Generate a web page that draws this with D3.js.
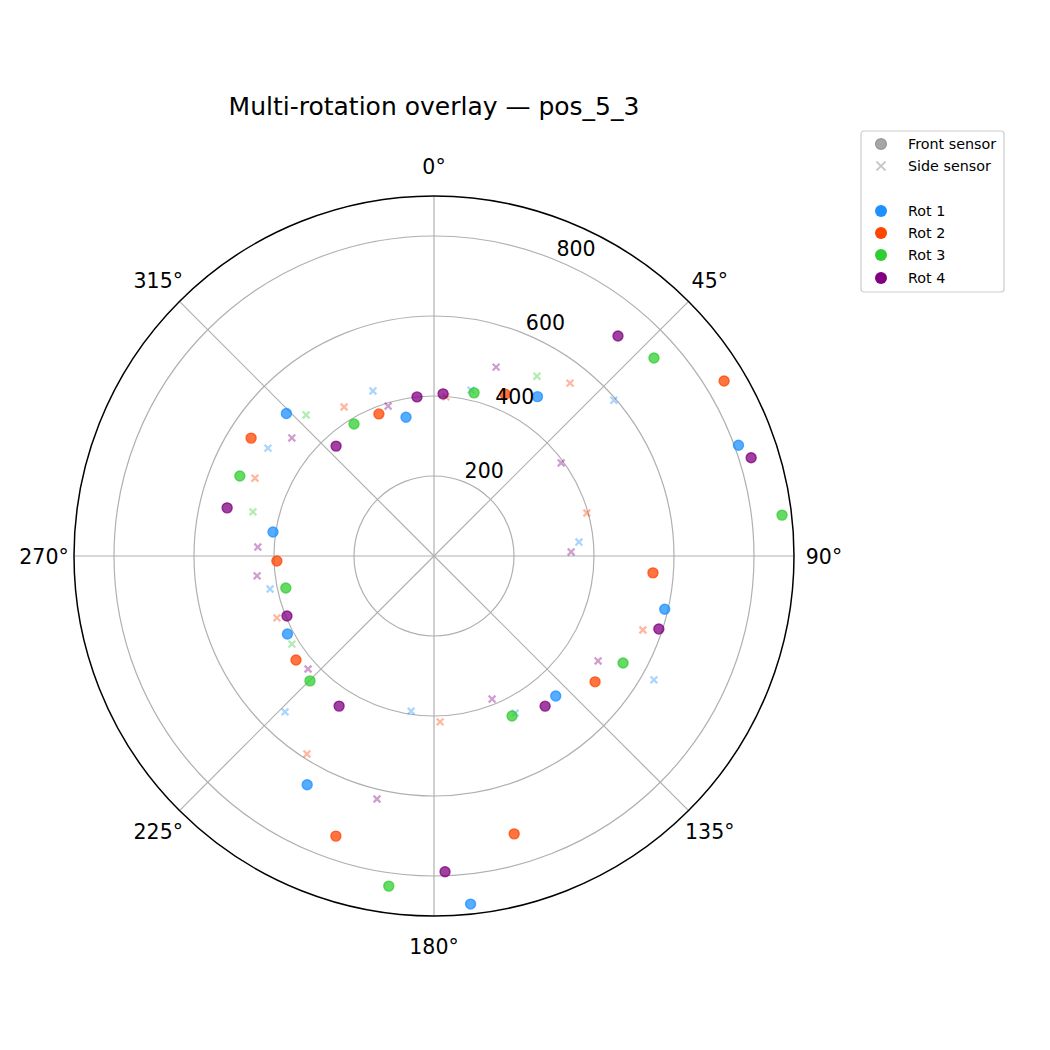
<!DOCTYPE html>
<html>
<head>
<meta charset="utf-8">
<script src="https://cdn.jsdelivr.net/npm/d3@7"></script>
<style>
  body { margin: 0; background: #fff; }
  text { font-family: "DejaVu Sans", sans-serif; }
</style>
</head>
<body>
<div id="polar"></div>
<script>
// data: angle in degrees (clockwise from north), distance
var rotations = ["Rot 1", "Rot 2", "Rot 3", "Rot 4"];

var frontAngle = [
  [33, 70, 103, 139, 174, 209, 242, 278.5, 314, 348.6],
  [23.7, 58.9, 94.4, 128, 163.9, 199.3, 233, 268.2, 302.8, 338.8],
  [13.8, 48, 83.3, 119.5, 154, 187.8, 224.8, 257.8, 292.4, 328.8],
  [3.2, 39.9, 72.8, 108, 143.5, 178, 212.3, 247.8, 283.1, 318.3, 353.9]
];
var frontDist = [
  [475, 810, 592, 464, 875, 654, 415, 407, 513, 354],
  [442, 847, 549, 511, 723, 742, 432, 393, 544, 381],
  [420, 740, 876, 543, 445, 833, 440, 379, 525, 386],
  [406, 717, 830, 591, 467, 790, 444, 397, 531, 368, 400]
];
var sideAngle = [
  [12.6, 49.1, 84.5, 119.4, 152.7, 188.4, 223.7, 258.6, 303, 339.7],
  [4.3, 38.2, 74.3, 109.5, 177.9, 212.7, 248.5, 293.5, 328.9],
  [29.8, 238.2, 283.7, 317.8],
  [18.2, 53.8, 88.3, 122.6, 157.9, 193.2, 228.1, 263.6, 272.9, 309.7, 343]
];
var sideDist = [
  [425, 595, 364, 631, 442, 392, 539, 418, 495, 440],
  [399, 550, 397, 554, 415, 588, 422, 488, 435],
  [518, 418, 466, 476],
  [497, 394, 343, 487, 386, 624, 423, 445, 441, 462, 392]
];
var rTicks = [200, 400, 600, 800];
var thetaTicks = [0, 45, 90, 135, 180, 225, 270, 315];

var colors = ["#1E90FF", "#FF4500", "#32CD32", "#800080"];

var width = 1050, height = 1050;
var cx = 434, cy = 556, outer = 360;

var svg = d3.select("#polar")
  .append("svg")
  .attr("width", width)
  .attr("height", height);

var r = d3.scaleLinear().domain([0, 900]).range([0, outer]);
var theta = d3.scaleLinear().domain([0, 360]).range([0, 2 * Math.PI]);

var chart = svg.append("g")
  .attr("transform", "translate(" + cx + "," + cy + ")");

// grid
chart.selectAll(".rgrid")
  .data(rTicks)
  .enter()
  .append("circle")
  .attr("r", d => r(d))
  .attr("fill", "none")
  .attr("stroke", "#b0b0b0")
  .attr("stroke-width", 1.2);

chart.selectAll(".tgrid")
  .data(thetaTicks)
  .enter()
  .append("line")
  .attr("x1", 0)
  .attr("y1", 0)
  .attr("x2", d => d3.pointRadial(theta(d), outer)[0])
  .attr("y2", d => d3.pointRadial(theta(d), outer)[1])
  .attr("stroke", "#b0b0b0")
  .attr("stroke-width", 1.2);

chart.append("circle")
  .attr("r", outer)
  .attr("fill", "none")
  .attr("stroke", "#000")
  .attr("stroke-width", 1.5);

// points, per rotation: front sensor dots then side sensor crosses
function cross(s) {
  return "M" + (-s) + "," + (-s) + "L" + s + "," + s + "M" + (-s) + "," + s + "L" + s + "," + (-s);
}

rotations.forEach(function (name, i) {
  var front = frontAngle[i].map((a, j) => ({a: a, d: frontDist[i][j]}));
  var side = sideAngle[i].map((a, j) => ({a: a, d: sideDist[i][j]}));

  chart.append("g")
    .selectAll("circle")
    .data(front)
    .enter()
    .append("circle")
    .attr("cx", d => d3.pointRadial(theta(d.a), r(d.d))[0])
    .attr("cy", d => d3.pointRadial(theta(d.a), r(d.d))[1])
    .attr("r", 5)
    .attr("fill", colors[i])
    .attr("fill-opacity", 0.75)
    .attr("stroke", colors[i])
    .attr("stroke-opacity", 0.75)
    .attr("stroke-width", 1.4);

  chart.append("g")
    .selectAll("path")
    .data(side)
    .enter()
    .append("path")
    .attr("transform", d => "translate(" + d3.pointRadial(theta(d.a), r(d.d)) + ")")
    .attr("d", cross(3.4))
    .attr("stroke", colors[i])
    .attr("stroke-opacity", 0.38)
    .attr("stroke-width", 2.3)
    .attr("fill", "none");
});

// radial tick labels at 22.5 deg
chart.selectAll(".rlabel")
  .data(rTicks)
  .enter()
  .append("text")
  .attr("x", d => d3.pointRadial(theta(22.5), r(d))[0])
  .attr("y", d => d3.pointRadial(theta(22.5), r(d))[1] - 4)
  .attr("font-size", "20.5px")
  .attr("text-anchor", "start")
  .text(d => d);

// angle labels
chart.selectAll(".tlabel")
  .data(thetaTicks)
  .enter()
  .append("text")
  .attr("x", d => d3.pointRadial(theta(d), outer + 30)[0])
  .attr("y", d => d3.pointRadial(theta(d), outer + 30)[1] + 7.5)
  .attr("font-size", "20.5px")
  .attr("text-anchor", "middle")
  .text(d => d + "°");

// title
svg.append("text")
  .attr("x", cx)
  .attr("y", 115)
  .attr("text-anchor", "middle")
  .attr("font-size", "25px")
  .text("Multi-rotation overlay — pos_5_3");

// legend
var legend = svg.append("g").attr("transform", "translate(861,131)");
legend.append("rect")
  .attr("width", 143)
  .attr("height", 161)
  .attr("rx", 3)
  .attr("fill", "#fff")
  .attr("stroke", "#cccccc")
  .attr("stroke-width", 1.2);

var rowY = [13, 35, 80, 102, 124, 147];

legend.append("circle")
  .attr("cx", 20).attr("cy", rowY[0]).attr("r", 5.5)
  .attr("fill", "#808080").attr("fill-opacity", 0.7)
  .attr("stroke", "#808080").attr("stroke-opacity", 0.7).attr("stroke-width", 1.2);
legend.append("path")
  .attr("transform", "translate(20," + rowY[1] + ")")
  .attr("d", cross(4.5))
  .attr("stroke", "#c8c8c8")
  .attr("stroke-width", 1.8)
  .attr("fill", "none");
legend.append("text").attr("x", 47).attr("y", rowY[0] + 5).attr("font-size", "14.3px").text("Front sensor");
legend.append("text").attr("x", 47).attr("y", rowY[1] + 5).attr("font-size", "14.3px").text("Side sensor");

legend.selectAll(".rot")
  .data(rotations)
  .enter()
  .append("g")
  .attr("transform", (d, i) => "translate(0," + rowY[i + 2] + ")")
  .each(function (d, i) {
    var g = d3.select(this);
    g.append("circle").attr("cx", 20).attr("r", 6).attr("fill", colors[i]);
    g.append("text").attr("x", 47).attr("y", 5).attr("font-size", "14.3px").text(d);
  });
</script>
</body>
</html>
